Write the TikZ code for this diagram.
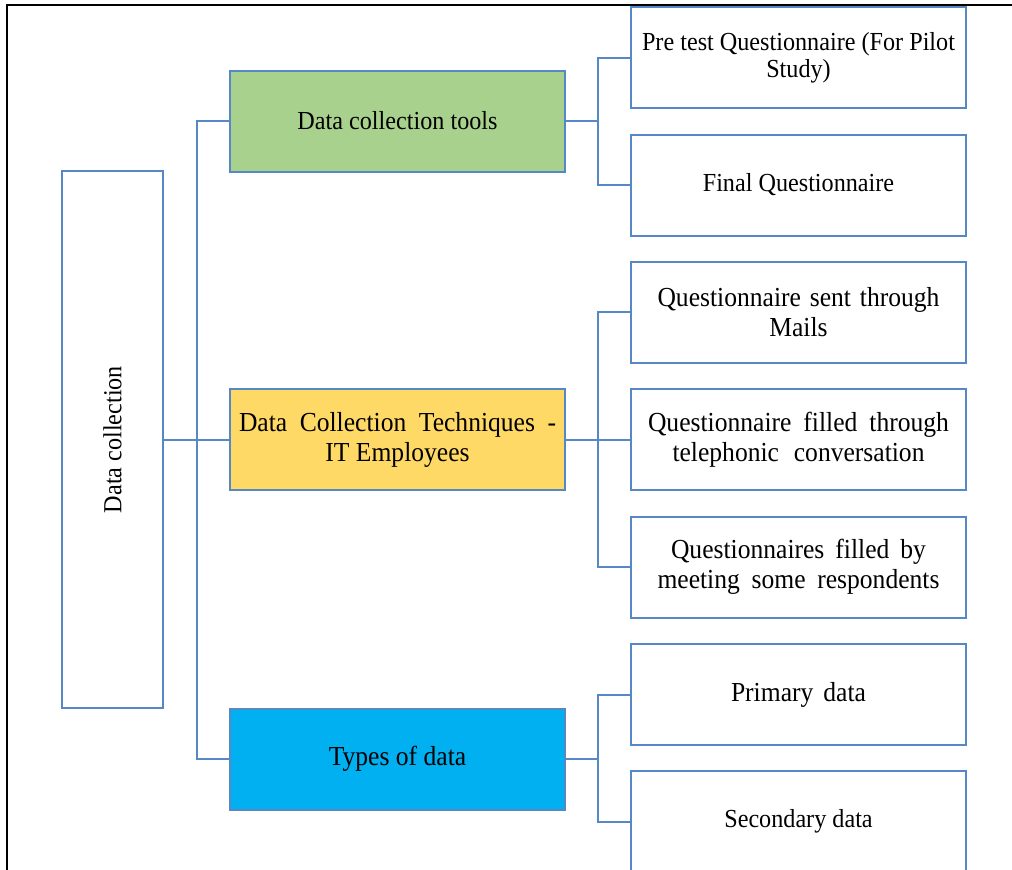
\documentclass[tikz,border=0pt]{standalone}
\usepackage{fontspec}
\setmainfont[FakeStretch=0.93]{Liberation Serif}
\definecolor{edge}{RGB}{86,136,198}
\definecolor{toolsfill}{HTML}{A9D18E}
\definecolor{techfill}{HTML}{FFD966}
\definecolor{typesfill}{HTML}{00B0F0}

\newcommand{\regtext}{\fontsize{26}{27}\selectfont}
\newcommand{\bigtext}{\fontsize{27.5}{30}\selectfont}

\tikzset{
  box/.style={draw=edge, line width=2pt, minimum width=335pt, minimum height=101pt,
    inner sep=0pt, align=center, font=\regtext},
  bigbox/.style={box, font=\bigtext},
  rootbox/.style={draw=edge, line width=2pt, minimum width=101pt, minimum height=537pt, inner sep=0pt},
  link/.style={draw=edge, line width=2pt},
}

\begin{document}
\begin{tikzpicture}[x=1pt,y=-1pt]
\useasboundingbox (0,0) rectangle (1012,870);

% outer frame (left and top edges)
\draw[line width=1.5pt] (7,900) -- (7,5) -- (1030,5);

% junction columns
\coordinate (trunkA) at (197,0);
\coordinate (trunkB) at (598,0);

% root
\node[rootbox] (root) at (112.5,439.5) {};
\node[rotate=90, inner sep=0pt, font=\regtext] (rootlabel) at (root.center) {Data collection};

% second level
\node[box, fill=toolsfill] (tools) at (397.5,121) {Data collection tools};
\node[bigbox, fill=techfill] (tech) at (397.5,439.5)
  {\makebox[317pt][s]{Data Collection Techniques -}\\IT Employees};
\node[box, fill=typesfill, font=\fontsize{27.5}{30}\selectfont] (types) at (397.5,759) {Types of data};

% third level
\node[box] (pre) at (798.5,57.5) {Pre test Questionnaire (For Pilot\\Study)};
\node[box] (fin) at (798.5,185) {Final Questionnaire};
\node[bigbox] (mail) at (798.5,312) {\makebox[282pt][s]{Questionnaire sent through}\\Mails};
\node[bigbox] (tel) at (798.5,439.5)
  {\makebox[301pt][s]{Questionnaire filled through}\\\makebox[252pt][s]{telephonic conversation}};
\node[bigbox] (meet) at (798.5,567)
  {\makebox[255pt][s]{Questionnaires filled by}\\\makebox[282pt][s]{meeting some respondents}};
\node[bigbox] (prim) at (798.5,694.5) {\makebox[135pt][s]{Primary data}};
\node[box] (sec) at (798.5,821.5) {Secondary data};

% connectors
\draw[link] (root.east) -- (tech.west);
\draw[link] (tools.west) -- (tools.west -| trunkA) -- (types.west -| trunkA) -- (types.west);

\draw[link] (tools.east) -- (tools.east -| trunkB);
\draw[link] (pre.west) -- (pre.west -| trunkB) -- (fin.west -| trunkB) -- (fin.west);

\draw[link] (tech.east) -- (tel.west);
\draw[link] (mail.west) -- (mail.west -| trunkB) -- (meet.west -| trunkB) -- (meet.west);

\draw[link] (types.east) -- (types.east -| trunkB);
\draw[link] (prim.west) -- (prim.west -| trunkB) -- (sec.west -| trunkB) -- (sec.west);
\end{tikzpicture}
\end{document}
